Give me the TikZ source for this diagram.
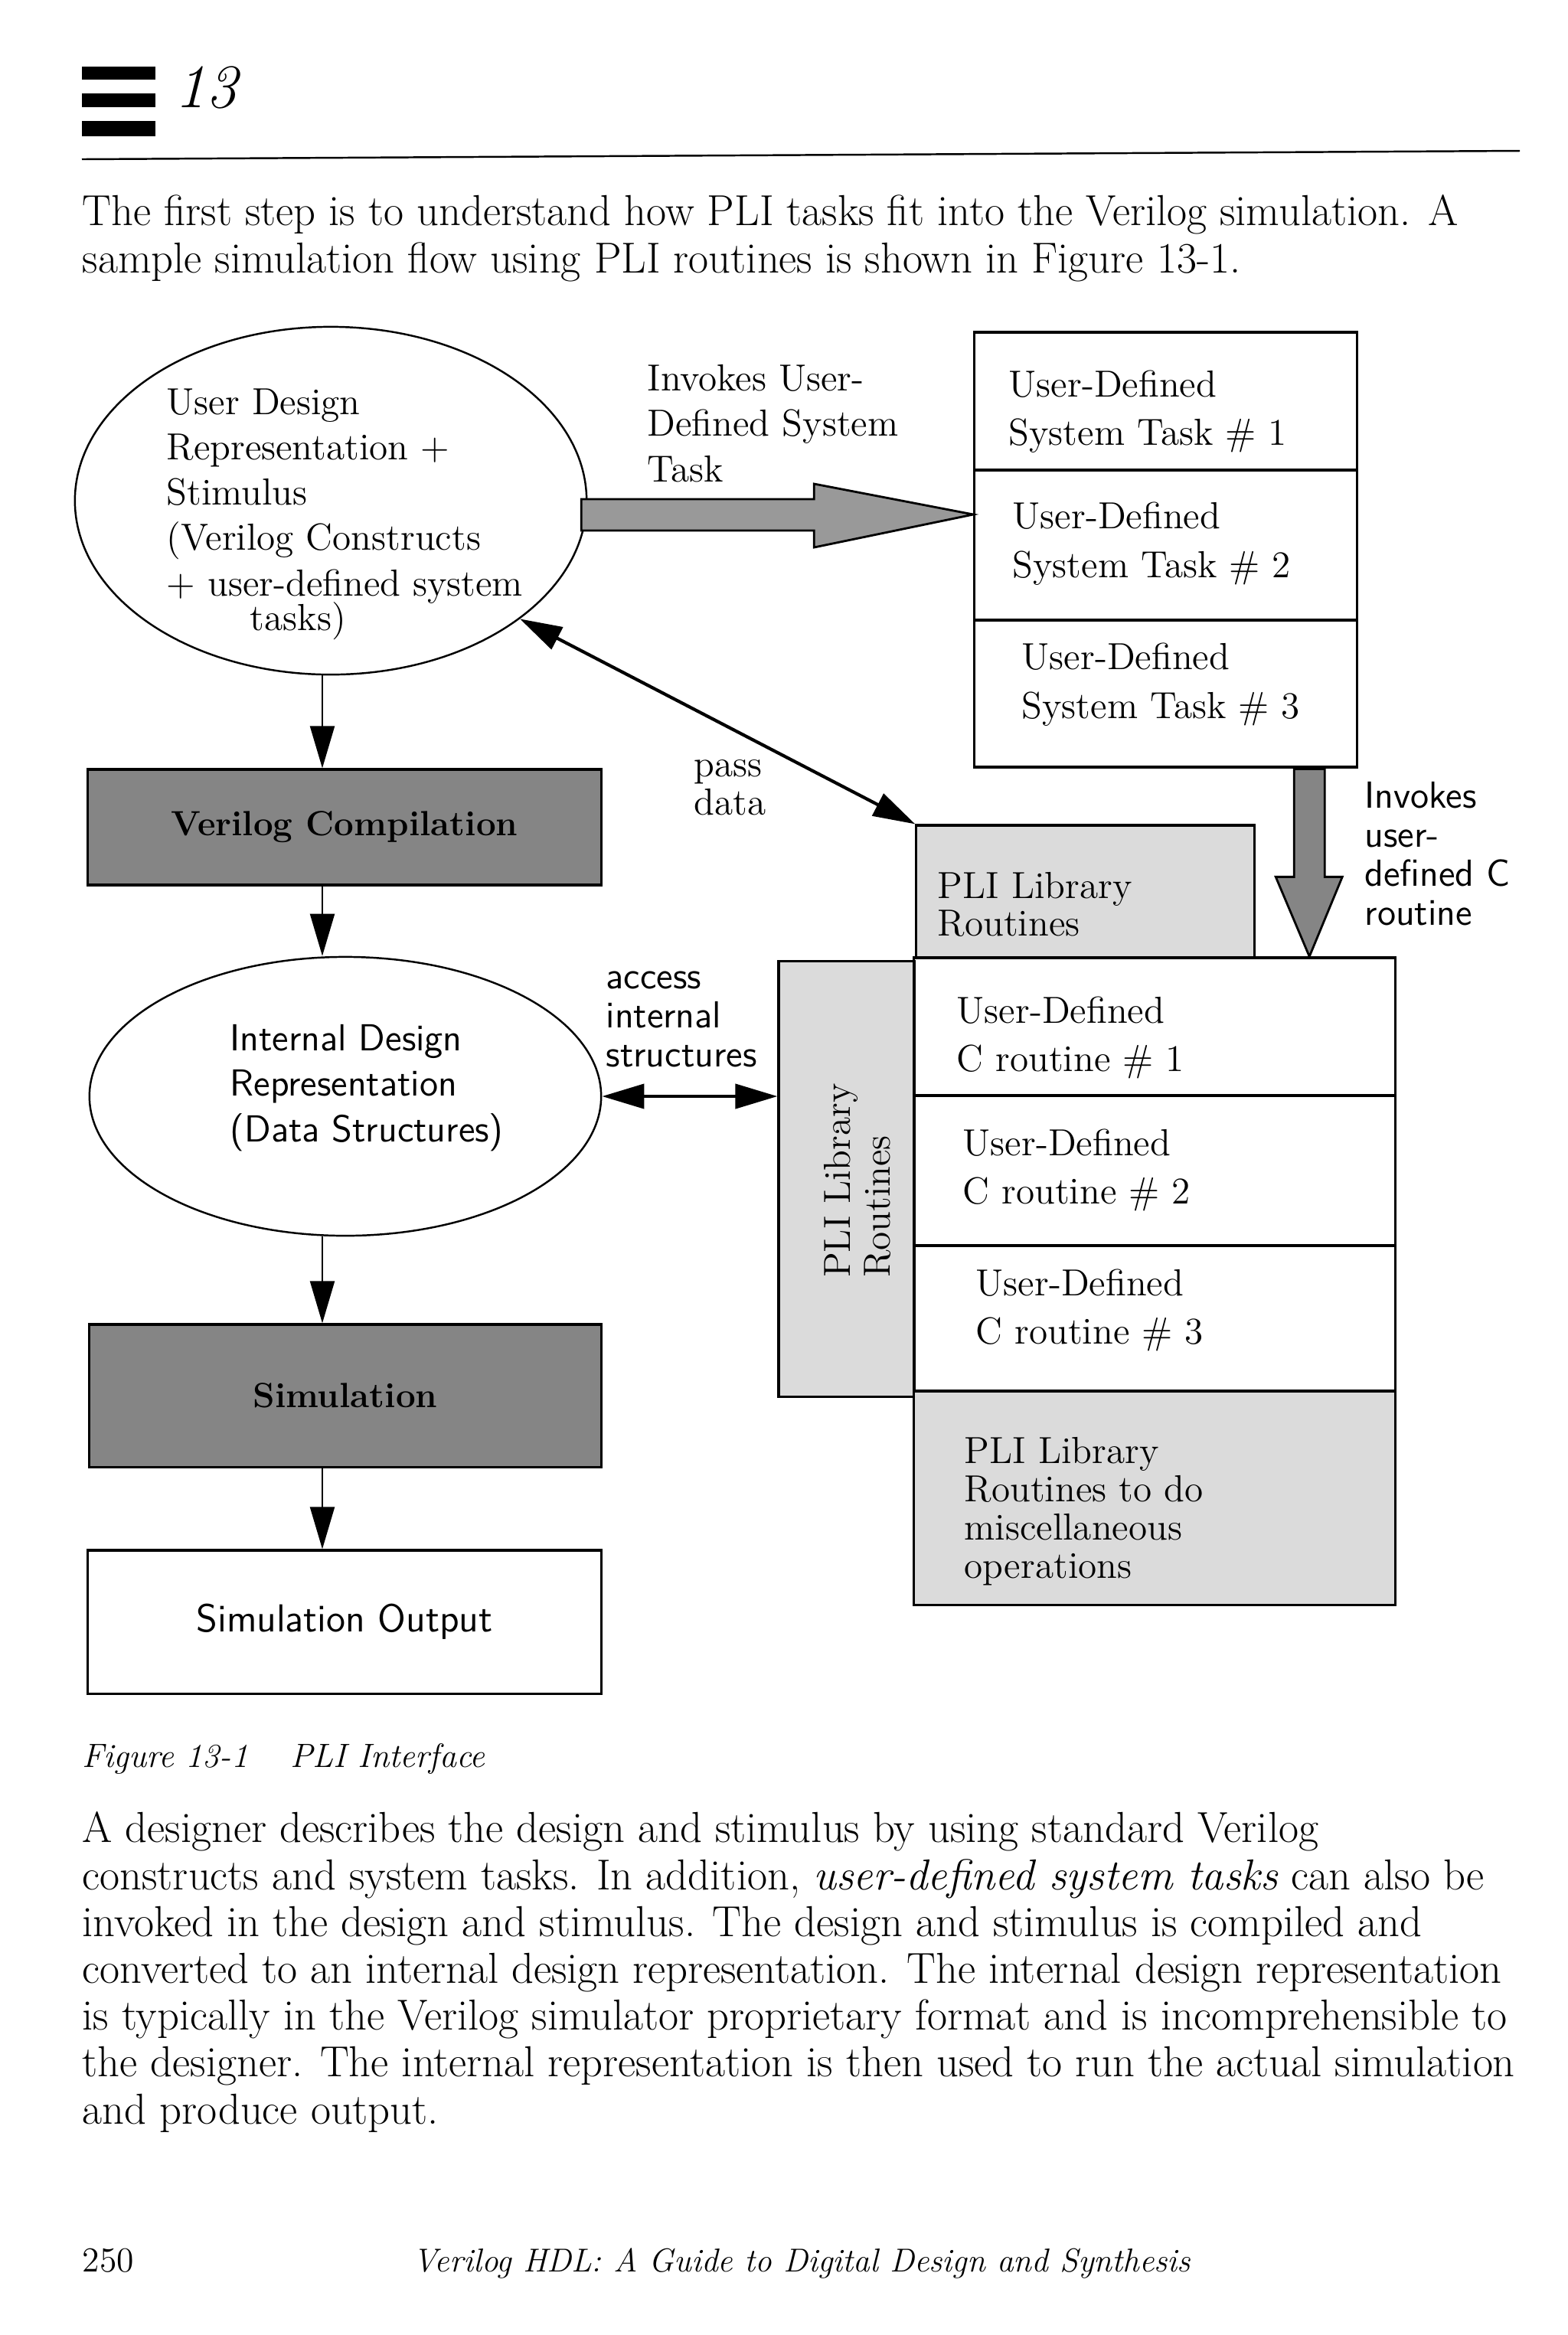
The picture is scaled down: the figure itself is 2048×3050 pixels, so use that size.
\documentclass[tikz,border=0pt]{standalone}
\usepackage{tikz}
\usetikzlibrary{arrows.meta,positioning,calc,shapes.geometric}

\newcommand{\dsize}[1]{\fontsize{14}{#1}\selectfont}
\newcommand{\bsize}{\fontsize{16.1}{17.4}\selectfont}

\tikzset{
  box/.style={draw, line width=0.9pt, rectangle, inner sep=0pt},
  darkbox/.style={box, fill=black!48, font=\fontsize{13}{15}\selectfont\bfseries},
  litebox/.style={box, fill=black!14},
  blob/.style={draw, line width=0.7pt, ellipse, inner sep=0pt},
  % multi-line texts are placed by the baseline of their last line
  txt/.style={inner sep=0pt, anchor=base west, align=left, font=\dsize{16.8}},
  tight/.style={txt, font=\dsize{14.2}},
  tall/.style={txt, font=\dsize{17.8}},
  sanstxt/.style={txt, font=\sffamily\dsize{14.5}},
  body/.style={inner sep=0pt, anchor=base west, align=left, font=\bsize},
  arr/.style={line width=0.6pt, -{Triangle[length=5.5mm,width=3.2mm]}},
  dblarr/.style={line width=1.2pt, {Triangle[length=5.5mm,width=3.2mm]}-{Triangle[length=5.5mm,width=3.2mm]}},
  fatarrow/.style={draw, line width=0.8pt, fill=black!40}
}

\begin{document}
\begin{tikzpicture}[x=0.01cm,y=-0.01cm]
\path[fill=white, use as bounding box] (0,0) rectangle (2048,3050);

% page head
\fill (107,87) rectangle (203,104);
\fill (107,122) rectangle (203,140);
\fill (107,158) rectangle (203,178);
\node[inner sep=0pt, anchor=base west, font=\fontsize{23}{25}\selectfont\itshape] (chapno) at (228,140) {13};
\draw[line width=0.7pt] (107,208) -- (1985,197);

\node[body] (intro) at (107,356) {The first step is to understand how PLI tasks fit into the Verilog simulation. A\\
sample simulation flow using PLI routines is shown in Figure 13-1.};

% left column
\coordinate (spine) at (421,0);
\node[blob, minimum width=6.68cm, minimum height=4.54cm] (design) at (432,654) {};
\node[txt] (designtxt) at (217,823) {User Design\\Representation +\\Stimulus\\(Verilog Constructs\\+ user-defined system\\[-4pt]\hspace*{1.09cm}tasks)};
\node[darkbox, minimum width=6.70cm, minimum height=1.51cm] (comp) at (450,1080.5) {Verilog Compilation};
\node[blob, minimum width=6.68cm, minimum height=3.64cm] (internal) at (451,1432) {};
\node[sanstxt, font=\sffamily\dsize{16.9}] (internaltxt) at (300,1491) {Internal Design\\Representation\\(Data Structures)};
\node[darkbox, minimum width=6.68cm, minimum height=1.86cm] (sim) at (451,1823) {Simulation};
\node[box, minimum width=6.70cm, minimum height=1.87cm, font=\sffamily\fontsize{14.5}{17}\selectfont] (output) at (450,2118.5) {Simulation Output};

\draw[arr] (spine |- design.south) -- (spine |- comp.north);
\draw[arr] (spine |- comp.south) -- (spine |- internal.north);
\draw[arr] (spine |- internal.south) -- (spine |- sim.north);
\draw[arr] (spine |- sim.south) -- (spine |- output.north);

% system tasks
\node[box, minimum width=4.99cm, minimum height=1.80cm] (task1) at (1522.5,524) {};
\node[box, minimum width=4.99cm, minimum height=1.96cm] (task2) at (1522.5,712) {};
\node[box, minimum width=4.99cm, minimum height=1.92cm] (task3) at (1522.5,906) {};
\node[tall] (task1txt) at (1317,581) {User-Defined\\System Task \# 1};
\node[tall, font=\dsize{18.2}] (task2txt) at (1322,754) {User-Defined\\System Task \# 2};
\node[tall, font=\dsize{18.2}] (task3txt) at (1334,938) {User-Defined\\System Task \# 3};

\node[txt] (invokelbl) at (845,629) {Invokes User-\\Defined System\\Task};
\coordinate (tiptask) at ($(task2.west)+(0,-40)$);
\draw[fatarrow] (tiptask) -- ++(-208,-40) -- ++(0,20) -- ++(-304,0) -- ++(0,41) -- ++(304,0) -- ++(0,22) -- cycle;

% PLI library and C routines
\node[litebox, minimum width=4.41cm, minimum height=1.73cm] (pli) at (1417.5,1164.5) {};
\node[tight, font=\dsize{13.7}] (plitxt) at (1224,1222) {PLI Library\\Routines};
\node[litebox, minimum width=1.77cm, minimum height=5.68cm] (vpli) at (1105.5,1540) {};
\node[rotate=90, align=left, inner sep=0pt, font=\dsize{14.8}] (vplitxt) at (1120,1542) {PLI Library\\Routines};

\node[box, minimum width=6.28cm, minimum height=1.80cm] (c1) at (1508,1341) {};
\node[box, minimum width=6.28cm, minimum height=1.96cm] (c2) at (1508,1529) {};
\node[box, minimum width=6.28cm, minimum height=1.90cm] (c3) at (1508,1722) {};
\node[litebox, minimum width=6.28cm, minimum height=2.79cm] (misc) at (1508,1956.5) {};
\node[tall] (c1txt) at (1249,1399) {User-Defined\\C routine \# 1};
\node[tall] (c2txt) at (1257,1572) {User-Defined\\C routine \# 2};
\node[tall] (c3txt) at (1274,1755) {User-Defined\\C routine \# 3};
\node[tight] (misctxt) at (1259,2061) {PLI Library\\Routines to do\\miscellaneous\\operations};

\coordinate (tipc) at ($(c1.north west)+(518,0)$);
\draw[fatarrow, fill=black!48] (tipc) -- ++(-44,-104) -- ++(24,0) -- ++(0,-141) -- ++(40,0) -- ++(0,141) -- ++(23,0) -- cycle;
\node[sanstxt] (invokeclbl) at (1782,1208) {Invokes\\user-\\defined C\\routine};

% data paths
\draw[dblarr] (design.-32) -- (pli.north west);
\node[tight] (passlbl) at (906,1064) {pass\\data};
\draw[dblarr] (internal.east) -- (internal.east -| vpli.west);
\node[sanstxt] (accesslbl) at (791,1393) {access\\internal\\structures};

% caption and text below
\node[inner sep=0pt, anchor=base west, font=\fontsize{12.5}{15}\selectfont\itshape] (caption) at (107,2308) {\makebox[2.72cm][l]{Figure 13-1}PLI Interface};

\node[body] (para) at (107,2774) {A designer describes the design and stimulus by using standard Verilog\\
constructs and system tasks. In addition, \textit{user-defined system tasks} can also be\\
invoked in the design and stimulus. The design and stimulus is compiled and\\
converted to an internal design representation. The internal design representation\\
is typically in the Verilog simulator proprietary format and is incomprehensible to\\
the designer. The internal representation is then used to run the actual simulation\\
and produce output.};

\node[inner sep=0pt, anchor=base west, font=\fontsize{13}{15}\selectfont] (pageno) at (107,2967) {250};
\node[inner sep=0pt, anchor=base west, font=\fontsize{12.3}{15}\selectfont\itshape] (booktitle) at (539,2967) {Verilog HDL: A Guide to Digital Design and Synthesis};
\end{tikzpicture}
\end{document}
